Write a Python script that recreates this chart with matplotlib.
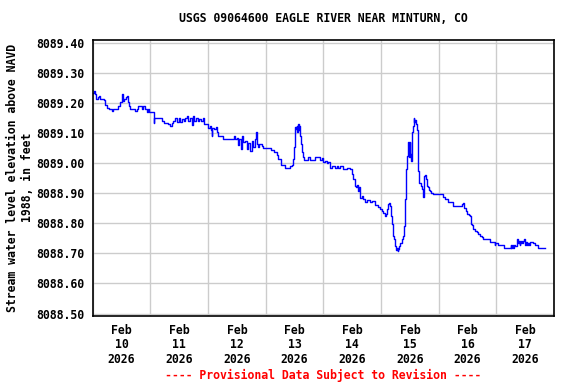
import numpy as np
import pandas as pd
import matplotlib
matplotlib.use("Agg")
import matplotlib.pyplot as plt
import matplotlib.dates as mdates
from matplotlib.ticker import FixedLocator

# hours after 2026-02-10 00:00 and water level (ft, NAVD 1988)
hours = [0.0, 0.6, 0.9, 1.4, 2.0, 2.5, 3.1, 4.5, 5.0, 5.3, 5.9, 6.6, 7.9, 8.6, 10.0,
         10.7, 11.4, 12.0, 12.4, 12.8, 13.2, 13.8, 14.2, 14.6, 15.2, 15.6, 16.7, 17.6,
         18.3, 19.0, 19.7, 20.4, 21.1, 21.8, 22.5, 22.9, 23.3, 24.7, 25.3, 25.6, 26.4,
         28.7, 29.7, 31.5, 32.2, 32.9, 33.6, 34.3, 35.0, 35.7, 36.4, 37.1, 37.8, 38.5,
         39.1, 39.8, 40.5, 41.2, 41.6, 42.2, 43.0, 43.6, 44.4,
         45.1, 45.7, 46.1, 47.5, 48.1, 48.8, 49.3, 49.5, 49.8, 50.6, 51.2, 51.8, 52.3,
         54.4, 57.9, 58.6, 59.2, 59.9, 60.6, 61.0, 61.5, 62.0, 62.7, 63.4, 64.1, 64.8,
         65.5, 66.2, 66.9, 67.6, 68.0, 68.3, 68.7, 69.2, 70.3, 71.0, 73.1, 74.2, 75.6,
         76.6, 77.3, 78.4, 80.0,
         82.1, 82.8, 83.5, 83.8, 84.2, 84.6, 84.9, 85.2, 85.4, 85.7, 86.0, 86.3, 86.5,
         87.0, 87.2, 87.6, 88.1, 89.0, 89.7, 90.4, 91.8, 92.5, 93.9, 94.6, 95.3, 95.7,
         96.7, 97.4, 98.0, 98.7, 99.4, 100.8, 101.5, 102.2, 102.9, 104.3, 105.7, 107.1,
         107.8, 108.5, 109.1, 109.6, 109.8, 110.3, 110.8, 111.2, 111.9, 112.6, 113.3,
         114.0, 115.4, 116.1, 117.5, 118.9, 119.5, 120.2, 120.9, 121.6, 122.0, 122.5,
         122.9, 123.3, 123.7,
         124.2, 124.7, 125.1, 125.5, 125.8, 126.2, 126.5, 126.9, 127.2, 127.5, 127.9,
         128.6, 129.3, 129.7, 130.0, 130.4, 130.7, 131.0, 131.4, 131.6, 131.9, 132.2,
         132.5, 132.8, 133.0, 133.3, 133.6, 133.9, 134.1, 134.6, 134.8, 135.3, 135.5,
         135.9, 136.4, 136.9, 137.3, 137.6, 137.7, 138.0, 138.3, 138.6, 139.0, 139.4,
         140.0, 140.4, 140.8, 141.4, 143.9, 145.9, 146.6,
         147.6, 148.0, 149.4, 149.8, 152.9, 153.6, 154.0, 154.3, 154.7, 155.4, 155.7,
         155.9, 156.5, 157.0, 157.3, 157.7, 158.2, 158.7, 159.1, 159.8, 160.5, 161.2,
         161.9, 162.3, 165.1, 165.4, 167.0, 167.3, 167.6, 168.4, 168.8, 170.9, 171.2,
         173.7, 174.0, 174.2, 174.5, 174.8, 175.4, 175.9, 176.5, 176.7, 177.0, 177.3,
         177.6, 177.8, 178.3, 178.7, 179.1, 179.5, 179.9, 180.3, 180.8, 181.2, 181.6,
         182.0, 182.8, 183.4, 183.9, 185.1, 185.5, 188.3]

level = [8089.234, 8089.240, 8089.228, 8089.214, 8089.218, 8089.221, 8089.212, 8089.210,
         8089.203, 8089.192, 8089.184, 8089.181, 8089.172, 8089.179, 8089.181, 8089.188,
         8089.201, 8089.229, 8089.218, 8089.207, 8089.214, 8089.218, 8089.221, 8089.201,
         8089.188, 8089.181, 8089.181, 8089.173, 8089.179, 8089.188, 8089.188, 8089.181,
         8089.188, 8089.179, 8089.170, 8089.181, 8089.168, 8089.168, 8089.134, 8089.151,
         8089.148, 8089.140, 8089.132, 8089.129, 8089.123, 8089.132, 8089.140, 8089.151,
         8089.137, 8089.150, 8089.137, 8089.145, 8089.140, 8089.151, 8089.157, 8089.140,
         8089.151, 8089.125, 8089.157, 8089.140, 8089.151, 8089.140, 8089.145,
         8089.138, 8089.149, 8089.130, 8089.128, 8089.115, 8089.122, 8089.111, 8089.091,
         8089.115, 8089.113, 8089.119, 8089.104, 8089.091, 8089.080, 8089.080, 8089.089,
         8089.080, 8089.082, 8089.060, 8089.080, 8089.047, 8089.089, 8089.069, 8089.074,
         8089.047, 8089.067, 8089.041, 8089.074, 8089.052, 8089.080, 8089.102, 8089.063,
         8089.052, 8089.063, 8089.058, 8089.049, 8089.049, 8089.044, 8089.038, 8089.027,
         8089.013, 8088.993, 8088.985,
         8088.991, 8088.993, 8089.013, 8089.052, 8089.119, 8089.113, 8089.124, 8089.102,
         8089.130, 8089.108, 8089.124, 8089.091, 8089.063, 8089.058, 8089.035, 8089.019,
         8089.011, 8089.011, 8089.019, 8089.011, 8089.011, 8089.019, 8089.019, 8089.011,
         8089.015, 8089.002, 8089.008, 8089.000, 8089.002, 8088.985, 8088.991, 8088.985,
         8088.989, 8088.982, 8088.989, 8088.980, 8088.982, 8088.980, 8088.963, 8088.947,
         8088.924, 8088.919, 8088.927, 8088.908, 8088.919, 8088.885, 8088.891, 8088.880,
         8088.871, 8088.878, 8088.871, 8088.874, 8088.860, 8088.855, 8088.847, 8088.841,
         8088.835, 8088.824, 8088.830, 8088.847, 8088.863, 8088.867, 8088.858,
         8088.824, 8088.797, 8088.758, 8088.747, 8088.724, 8088.710, 8088.719, 8088.708,
         8088.713, 8088.724, 8088.735, 8088.747, 8088.758, 8088.791, 8088.880, 8088.980,
         8089.024, 8089.052, 8089.069, 8089.019, 8089.069, 8089.030, 8089.008, 8089.074,
         8089.102, 8089.124, 8089.150, 8089.135, 8089.143, 8089.130, 8089.108, 8089.041,
         8088.974, 8088.935, 8088.924, 8088.913, 8088.897, 8088.888, 8088.913, 8088.958,
         8088.961, 8088.947, 8088.924, 8088.919, 8088.910, 8088.908, 8088.902, 8088.897,
         8088.897, 8088.888, 8088.880,
         8088.880, 8088.869, 8088.869, 8088.858, 8088.858, 8088.863, 8088.867, 8088.860,
         8088.852, 8088.841, 8088.835, 8088.830, 8088.827, 8088.824, 8088.797, 8088.793,
         8088.782, 8088.780, 8088.774, 8088.771, 8088.765, 8088.758, 8088.755, 8088.747,
         8088.747, 8088.738, 8088.738, 8088.727, 8088.735, 8088.735, 8088.727, 8088.727,
         8088.719, 8088.719, 8088.727, 8088.719, 8088.729, 8088.719, 8088.727, 8088.724,
         8088.741, 8088.747, 8088.735, 8088.741, 8088.727, 8088.733, 8088.741, 8088.733,
         8088.741, 8088.747, 8088.727, 8088.738, 8088.727, 8088.735, 8088.727, 8088.738,
         8088.738, 8088.735, 8088.727, 8088.724, 8088.719, 8088.719]

start = pd.Timestamp("2026-02-10")
times = start + pd.to_timedelta(hours, unit="h")

font = {"family": "DejaVu Sans Mono", "weight": "bold", "size": 8.3}

fig = plt.figure(figsize=(5.76, 3.84), dpi=100)
ax = fig.add_axes([0.161, 0.178, 0.801, 0.719])

ax.plot(times, level, color="#0000ff", linewidth=1.0, drawstyle="steps-post")

ax.set_xlim(start, start + pd.Timedelta(days=8))
ax.set_ylim(8088.493, 8089.41)

days = pd.date_range(start, periods=9, freq="D")
ax.xaxis.set_major_locator(FixedLocator(mdates.date2num(days)))
ax.xaxis.set_minor_locator(FixedLocator(mdates.date2num(days[:-1] + pd.Timedelta(hours=12))))
ax.set_xticklabels([], minor=False)
ax.set_xticklabels([d.strftime("Feb\n%d\n%Y") for d in days[:-1]], minor=True,
                   fontdict=font, linespacing=1.15)
yt = np.arange(8088.5, 8089.41, 0.1)
ax.set_yticks(yt)
ax.set_yticklabels([f"{v:.2f}" for v in yt], fontdict=font)
ax.tick_params(which="both", length=0)
ax.tick_params(axis="y", pad=6)
ax.tick_params(axis="x", which="minor", pad=6)

ax.grid(True, which="major", color="#cccccc", linewidth=1.0)
ax.set_axisbelow(True)
for s in ax.spines.values():
    s.set_linewidth(1.2)

ax.set_ylabel("Stream water level elevation above NAVD\n1988, in feet",
              fontdict=font, linespacing=1.25, labelpad=1.5)

fig.text(0.561, 1 - 19 / 384, "USGS 09064600 EAGLE RIVER NEAR MINTURN, CO",
         ha="center", va="center", fontdict=font)
fig.text(0.561, 1 - 375 / 384, "---- Provisional Data Subject to Revision ----",
         ha="center", va="center", color="red", fontdict=font)

fig.savefig("out.png", dpi=100)
